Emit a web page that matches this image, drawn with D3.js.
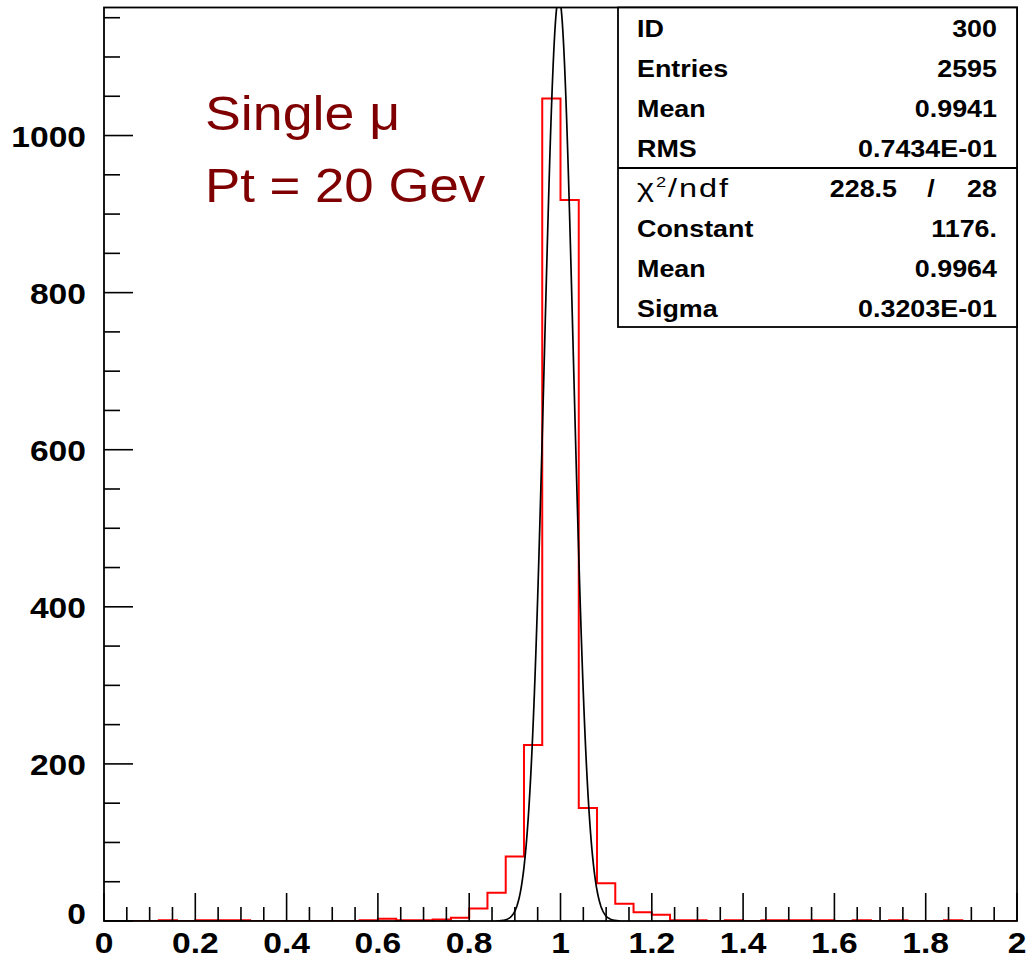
<!DOCTYPE html>
<html>
<head>
<meta charset="utf-8">
<script src="https://cdn.jsdelivr.net/npm/d3@7"></script>
<style>
  html, body { margin: 0; padding: 0; background: #fff; }
  svg { display: block; }
  text { font-family: "Liberation Sans", Arial, Helvetica, sans-serif; }
</style>
</head>
<body>
<svg id="chart" width="1027" height="960"></svg>
<script>
// Histogram 300: 50 bins of width 0.04 on [0, 2]
const xRange = [0, 2];
const binCounts = [
  0, 0, 0, 1, 0, 1, 1, 1, 0, 0,
  0, 0, 0, 0, 1, 3, 1, 1, 2, 4,
  16, 36, 82, 224, 1047, 918, 144, 48, 22, 11,
  8, 1, 1, 0, 1, 0, 1, 1, 1, 1,
  0, 1, 0, 1, 0, 0, 1, 0, 0, 0
];
const yRange = [0, 1163];

// Gaussian fit: constant, mean, sigma, and drawn range
const fitParams = [1176, 0.9964, 0.03203];
const fitRange = [0.86, 1.13];

// Axis ticks
const xMajorTicks = [0, 0.2, 0.4, 0.6, 0.8, 1, 1.2, 1.4, 1.6, 1.8, 2];
const xTickLabels = ["0", "0.2", "0.4", "0.6", "0.8", "1", "1.2", "1.4", "1.6", "1.8", "2"];
const yMajorTicks = [0, 200, 400, 600, 800, 1000];
const yTickLabels = ["0", "200", "400", "600", "800", "1000"];

// Statistics box rows
const statNames = ["ID", "Entries", "Mean", "RMS"];
const statValues = ["300", "2595", "0.9941", "0.7434E-01"];
const fitNames = ["Constant", "Mean", "Sigma"];
const fitValues = ["1176.", "0.9964", "0.3203E-01"];
const chiValue = ["228.5", "28"];

const titleLines = ["Single \u03BC", "Pt = 20 Gev"];

const svg = d3.select("#chart");
const frame = { left: 104, right: 1017, top: 7.5, bottom: 921 };
const stretch = 1.12;

const x = d3.scaleLinear().domain(xRange).range([frame.left, frame.right]);
const y = d3.scaleLinear().domain(yRange).range([frame.bottom, frame.top]);

svg.append("defs").append("clipPath").attr("id", "plotClip")
  .append("rect")
  .attr("x", frame.left).attr("y", frame.top)
  .attr("width", frame.right - frame.left).attr("height", frame.bottom - frame.top);

// Step outline of the histogram
const nBins = binCounts.length;
const binW = (xRange[1] - xRange[0]) / nBins;
const steps = [];
binCounts.forEach((c, i) => {
  const lo = xRange[0] + i * binW;
  steps.push([lo, c], [lo + binW, c]);
});
const stepLine = d3.line().x(d => x(d[0])).y(d => y(d[1]));
svg.append("path")
  .attr("d", stepLine(steps))
  .attr("fill", "none")
  .attr("stroke", "#ff0000")
  .attr("stroke-width", 2)
  .attr("clip-path", "url(#plotClip)");

// Fitted Gaussian
const gauss = v => fitParams[0] * Math.exp(-0.5 * Math.pow((v - fitParams[1]) / fitParams[2], 2));
const fitPts = d3.range(fitRange[0], fitRange[1] + 1e-9, 0.001).map(v => [v, gauss(v)]);
svg.append("path")
  .attr("d", d3.line().x(d => x(d[0])).y(d => y(d[1]))(fitPts))
  .attr("fill", "none")
  .attr("stroke", "#000")
  .attr("stroke-width", 1.7)
  .attr("clip-path", "url(#plotClip)");

// Ticks (inside the frame)
const tickG = svg.append("g").attr("stroke", "#000").attr("stroke-width", 1.6);
d3.range(0, 2.0001, 0.05).forEach(v => {
  const major = Math.abs(v / 0.2 - Math.round(v / 0.2)) < 1e-6;
  tickG.append("line")
    .attr("x1", x(v)).attr("x2", x(v))
    .attr("y1", frame.bottom).attr("y2", frame.bottom - (major ? 28 : 14));
});
d3.range(0, yRange[1], 50).forEach(v => {
  const major = v % 200 === 0;
  tickG.append("line")
    .attr("x1", frame.left).attr("x2", frame.left + (major ? 29 : 16))
    .attr("y1", y(v)).attr("y2", y(v));
});

// Frame
svg.append("rect")
  .attr("x", frame.left).attr("y", frame.top)
  .attr("width", frame.right - frame.left).attr("height", frame.bottom - frame.top)
  .attr("fill", "none").attr("stroke", "#000").attr("stroke-width", 1.8);

// Axis labels
function stretchedText(g, tx, ty, str, opts) {
  return g.append("text")
    .attr("transform", `translate(${tx},${ty}) scale(${opts.sx || stretch},1)`)
    .attr("text-anchor", opts.anchor || "start")
    .attr("font-size", opts.size)
    .attr("font-weight", opts.weight || "bold")
    .attr("fill", opts.fill || "#000")
    .text(str);
}
const labelG = svg.append("g");
xMajorTicks.forEach((v, i) => {
  stretchedText(labelG, x(v), 953, xTickLabels[i], { size: 30, anchor: "middle" });
});
yMajorTicks.forEach((v, i) => {
  const yy = y(v) + 11 - (v === 0 ? 8 : 0);
  stretchedText(labelG, 86, yy, yTickLabels[i], { size: 30, anchor: "end" });
});

// Title text
stretchedText(svg, 205, 130, titleLines[0], { size: 48, weight: "normal", fill: "#7f0000", sx: 1.12 });
stretchedText(svg, 205, 202, titleLines[1], { size: 48, weight: "normal", fill: "#7f0000", sx: 1.1 });

// Statistics box
const box = { left: 618, right: 1017, top: 7.5, divider: 168, bottom: 327 };
svg.append("rect")
  .attr("x", box.left).attr("y", box.top)
  .attr("width", box.right - box.left).attr("height", box.bottom - box.top)
  .attr("fill", "#fff").attr("stroke", "#000").attr("stroke-width", 1.8);
svg.append("line")
  .attr("x1", box.left).attr("x2", box.right)
  .attr("y1", box.divider).attr("y2", box.divider)
  .attr("stroke", "#000").attr("stroke-width", 1.8);

const statG = svg.append("g");
const rowY = i => 37 + i * 40;
statNames.forEach((n, i) => {
  stretchedText(statG, 637, rowY(i), n, { size: 24 });
  stretchedText(statG, 997, rowY(i), statValues[i], { size: 24, anchor: "end" });
});
// chi-square row, drawn in a thin face
const chiText = statG.append("text")
  .attr("transform", `translate(637,${rowY(4)}) scale(1.3,1)`)
  .attr("font-size", 25).attr("font-weight", "normal")
  .attr("letter-spacing", 1.5)
  .attr("font-family", "'DejaVu Sans', sans-serif").attr("fill", "#000");
chiText.append("tspan").text("\u03C7");
chiText.append("tspan").attr("font-size", 14).attr("dy", -10).text("2");
chiText.append("tspan").attr("dy", 10).text("/ndf");
stretchedText(statG, 897, rowY(4), chiValue[0], { size: 24, anchor: "end" });
stretchedText(statG, 931, rowY(4), "/", { size: 24, anchor: "middle" });
stretchedText(statG, 997, rowY(4), chiValue[1], { size: 24, anchor: "end" });
fitNames.forEach((n, i) => {
  stretchedText(statG, 637, rowY(5 + i), n, { size: 24 });
  stretchedText(statG, 997, rowY(5 + i), fitValues[i], { size: 24, anchor: "end" });
});
</script>
</body>
</html>
